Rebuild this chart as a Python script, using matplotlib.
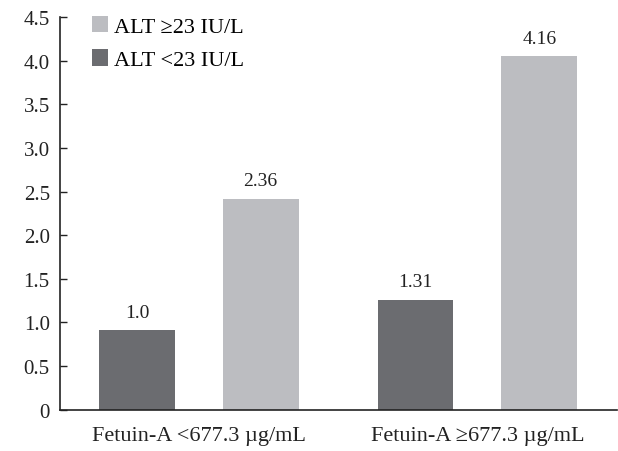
import matplotlib
matplotlib.use("Agg")
import matplotlib.pyplot as plt
import numpy as np

plt.rcParams['font.family'] = ['Liberation Serif', 'DejaVu Serif']

# data
groups = ["Fetuin-A <677.3 \u00b5g/mL", "Fetuin-A \u2265677.3 \u00b5g/mL"]
alt_low = [0.91, 1.26]        # ALT <23 IU/L (bar heights as drawn)
alt_high = [2.42, 4.05]       # ALT >=23 IU/L
alt_low_labels = ["1.0", "1.31"]
alt_high_labels = ["2.36", "4.16"]
yticks = [0, 0.5, 1.0, 1.5, 2.0, 2.5, 3.0, 3.5, 4.0, 4.5]
ytick_labels = ["0", "0.5", "1.0", "1.5", "2.0", "2.5", "3.0", "3.5", "4.0", "4.5"]

dark = "#6b6c70"
light = "#bcbdc1"

fig = plt.figure(figsize=(6.18, 4.52), dpi=100)
ax = fig.add_axes([0.0963, 0.0914, 0.9017, 0.8686])

x = np.arange(len(groups))
w = 0.272
off = 0.222

b_low = ax.bar(x - off, alt_low, width=w, color=dark, label="ALT <23 IU/L")
b_high = ax.bar(x + off, alt_high, width=w, color=light, label="ALT \u226523 IU/L")

for bars, labels in [(b_low, alt_low_labels), (b_high, alt_high_labels)]:
    for rect, lab in zip(bars, labels):
        ax.annotate(lab, (rect.get_x() + rect.get_width() / 2, rect.get_height()),
                    xytext=(0, 7), textcoords="offset points",
                    ha="center", va="bottom", fontsize=14, color="#222222")

ax.set_xlim(-0.5, 1.5)
ax.set_ylim(0, 4.5)
ax.set_yticks(yticks)
ax.set_yticklabels(ytick_labels, fontsize=15)
ax.set_xticks(x)
ax.set_xticklabels(groups, fontsize=16)
ax.tick_params(axis='y', direction='in', length=5, width=1, pad=7, colors="#222222")
ax.tick_params(axis='x', length=0, pad=12, colors="#222222")

for s in ["top", "right"]:
    ax.spines[s].set_visible(False)
for s in ["left", "bottom"]:
    ax.spines[s].set_linewidth(1.2)
    ax.spines[s].set_color("#222222")

handles = [b_high, b_low]
ax.legend(handles, [h.get_label() for h in handles], loc="upper left",
          bbox_to_anchor=(0.042, 1.025), frameon=False, fontsize=16,
          handlelength=0.75, handleheight=0.75, handletextpad=0.25,
          labelspacing=0.55, borderaxespad=0)

fig.savefig("out.png", dpi=100)
